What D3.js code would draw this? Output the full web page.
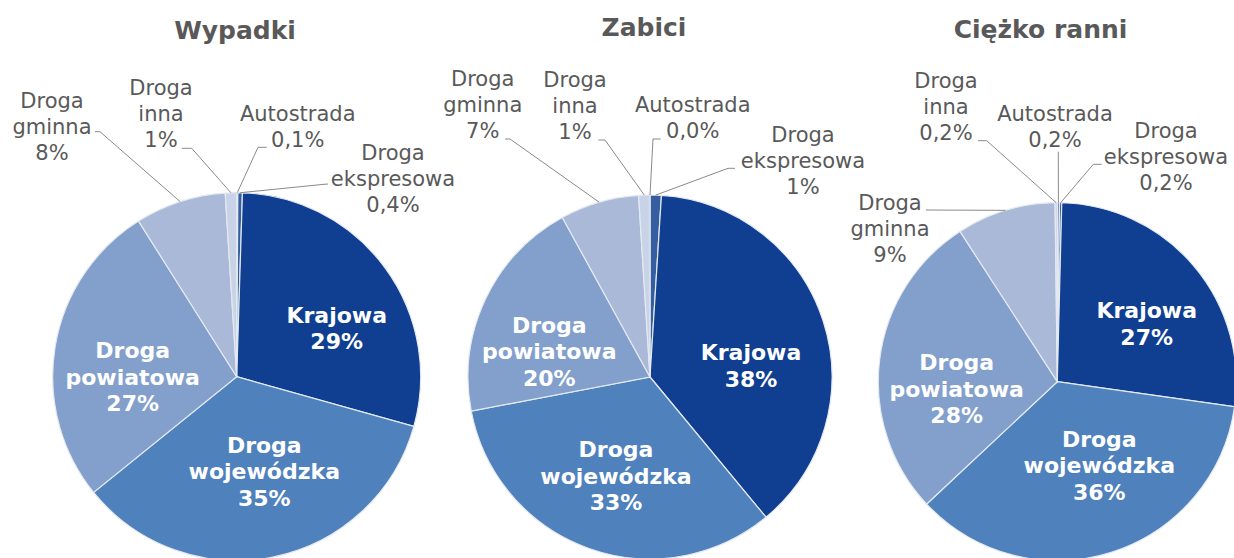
<!DOCTYPE html>
<html>
<head>
<meta charset="utf-8">
<script src="https://cdn.jsdelivr.net/npm/d3@7"></script>
<style>
  body { margin: 0; background: #fff; }
  svg { display: block; }
  text { font-family: "DejaVu Sans", Verdana, sans-serif; }
</style>
</head>
<body>
<svg id="chart" width="1234" height="558"></svg>
<script>
// Road categories, in slice order (clockwise from 12 o'clock)
const categories = ["Autostrada", "Droga ekspresowa", "Krajowa", "Droga wojewódzka",
                    "Droga powiatowa", "Droga gminna", "Droga inna"];
const titles = ["Wypadki", "Zabici", "Ciężko ranni"];

// Share of each road category, in percent
const wypadki     = [0.1, 0.4, 29, 35, 27, 8, 1];
const zabici      = [0.0, 1, 38, 33, 20, 7, 1];
const ciezkoRanni = [0.2, 0.2, 27, 36, 28, 9, 0.2];

const colors = ["#5d80b9", "#345ea0", "#103f91", "#4f81bd", "#839fcb", "#a9b9d7", "#c9d3e8"];

// categories whose label sits on the slice itself
const insideLabels = ["Krajowa", "Droga wojewódzka", "Droga powiatowa"];

const fmtPct = v => (v < 1 ? d3.format(".1f")(v).replace(".", ",") : d3.format(".0f")(v)) + "%";

// Placement of each pie, its title and its labels
const layouts = [
  { cx: 236.7, cy: 376.7, r: 184, title: [235, 39.3],
    labels: {
      "Autostrada":       { x: 297.7, y: 121,   lead: [[266.7, 147.3], [258, 147.3]] },
      "Droga ekspresowa": { x: 393,   y: 160,   lead: [[328, 184], [324, 184.3]] },
      "Krajowa":          { x: 336.7, y: 322.7 },
      "Droga wojewódzka": { x: 264.3, y: 452.7 },
      "Droga powiatowa":  { x: 132.7, y: 358.3 },
      "Droga gminna":     { x: 52,    y: 108.3, lead: [[95, 131.7], [100, 131.7]] },
      "Droga inna":       { x: 161,   y: 95,    lead: [[181.7, 148.3], [191.7, 148.3]] }
    } },
  { cx: 650, cy: 377, r: 182, title: [644, 36],
    labels: {
      "Autostrada":       { x: 692.7, y: 111.7, lead: [[660.7, 139], [653, 139]] },
      "Droga ekspresowa": { x: 803,   y: 141.7, lead: [[735, 168.3], [728, 168.3]] },
      "Krajowa":          { x: 751,   y: 360 },
      "Droga wojewódzka": { x: 616,   y: 457.3 },
      "Droga powiatowa":  { x: 549.3, y: 332.7 },
      "Droga gminna":     { x: 482.7, y: 86,    lead: [[505, 139], [510, 139]] },
      "Droga inna":       { x: 575,   y: 86.5,  lead: [[598.3, 140], [605, 140]] }
    } },
  { cx: 1057.3, cy: 381.7, r: 179, title: [1040.5, 37.7],
    labels: {
      "Autostrada":       { x: 1055,   y: 121,   lead: [[1058.3, 151.7], [1058.3, 151.7]] },
      "Droga ekspresowa": { x: 1166,   y: 138.3, lead: [[1101.7, 164.3], [1093.3, 164.3]] },
      "Krajowa":          { x: 1146.7, y: 318.3 },
      "Droga wojewódzka": { x: 1099.3, y: 446.7 },
      "Droga powiatowa":  { x: 956.7,  y: 370 },
      "Droga gminna":     { x: 890,    y: 210,   lead: [[926, 210], [926, 210]] },
      "Droga inna":       { x: 946,    y: 88.3,  lead: [[978, 140.7], [986.7, 140.7]] }
    } }
];

const series = [wypadki, zabici, ciezkoRanni];
const svg = d3.select("#chart");
svg.append("rect").attr("width", 1234).attr("height", 558).attr("fill", "#fff");

const color = d3.scaleOrdinal().domain(categories).range(colors);
const pie = d3.pie().sort(null).value(d => d.value);

series.forEach((vals, i) => {
  const L = layouts[i];
  const data = categories.map((c, j) => ({ category: c, value: vals[j] }));
  const arcs = pie(data);
  const arc = d3.arc().innerRadius(0).outerRadius(L.r);

  const g = svg.append("g");

  // title
  g.append("text")
    .attr("x", L.title[0]).attr("y", L.title[1])
    .attr("text-anchor", "middle")
    .attr("font-size", 25).attr("font-weight", "bold")
    .attr("fill", "#595959")
    .text(titles[i]);

  // slices
  g.append("g")
    .attr("transform", `translate(${L.cx},${L.cy})`)
    .selectAll("path")
    .data(arcs)
    .join("path")
    .attr("d", arc)
    .attr("fill", d => color(d.data.category))
    .attr("stroke", "#e4e9f1")
    .attr("stroke-width", 1.2);

  // labels
  arcs.forEach(a => {
    const c = a.data.category;
    const pos = L.labels[c];
    const inside = insideLabels.includes(c);
    const lines = c.split(" ").concat([fmtPct(a.data.value)]);

    if (!inside && pos.lead) {
      const mid = (a.startAngle + a.endAngle) / 2;
      const edge = [L.cx + L.r * Math.sin(mid), L.cy - L.r * Math.cos(mid)];
      g.append("path")
        .attr("d", d3.line()([pos.lead[0], pos.lead[1], edge]))
        .attr("fill", "none")
        .attr("stroke", "#8a8a8a")
        .attr("stroke-width", 1);
    }

    const t = g.append("text")
      .attr("text-anchor", "middle")
      .attr("font-size", inside ? 22 : 21)
      .attr("font-weight", inside ? "bold" : "normal")
      .attr("fill", inside ? "#ffffff" : "#595959");
    const step = inside ? 26.5 : 26;
    lines.forEach((ln, k) => {
      t.append("tspan")
        .attr("x", pos.x)
        .attr("y", pos.y + k * step)
        .text(ln);
    });
  });
});
</script>
</body>
</html>
